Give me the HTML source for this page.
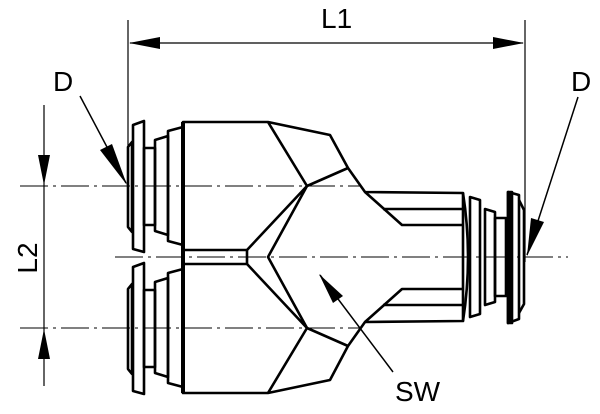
<!DOCTYPE html>
<html><head><style>body{margin:0;background:#fff}svg{display:block}</style></head><body>
<svg width="600" height="414" viewBox="0 0 600 414" xmlns="http://www.w3.org/2000/svg">
<g stroke="#000" fill="none">
<line x1="128" y1="20" x2="128" y2="182" stroke-width="1.2"/>
<line x1="525" y1="20" x2="525" y2="262" stroke-width="1.2"/>
<line x1="130" y1="43" x2="523" y2="43" stroke-width="1.2"/>
<path d="M129,43 L160,37 L160,49 Z M524,43 L493,37 L493,49 Z" fill="#000" stroke="none"/>
<line x1="44" y1="105" x2="44" y2="386" stroke-width="1.2"/>
<path d="M44,185 L38,155 L50,155 Z M44,329 L38,359 L50,359 Z" fill="#000" stroke="none"/>
<g stroke-width="1.1" stroke-dasharray="28,5,3,5">
<line x1="20" y1="186" x2="360" y2="186"/>
<line x1="20" y1="328" x2="360" y2="328"/>
<line x1="115" y1="257" x2="568" y2="257"/>
</g>
<line x1="80" y1="96" x2="126" y2="183" stroke-width="1.5"/>
<path d="M127,185 L100,150 L112,144 Z" fill="#000" stroke="none"/>
<line x1="578" y1="97" x2="527" y2="255" stroke-width="1.5"/>
<path d="M527,256 L531,218 L544,222 Z" fill="#000" stroke="none"/>
<line x1="393" y1="372" x2="320" y2="275" stroke-width="1.5"/>
<path d="M319,274 L343,296 L333,303 Z" fill="#000" stroke="none"/>
</g>
<g stroke="#000" fill="none" stroke-width="2.6" stroke-linejoin="round">
<g id="col">
<path d="M128,147 L132,142 L132,232 L128,227 Z"/>
<path d="M133,125 L144,121 L144,252 L133,249 Z"/>
<rect x="144" y="148" width="11" height="77"/>
<path d="M155,140 L168,136 L168,235 L155,231 Z"/>
<path d="M168,131 L183,127 L183,245 L168,241 Z"/>
</g>
<use href="#col" transform="translate(0,142)"/>
<path d="M183,122 L268,122 L330,135 L348,168 L365,192 L463,193 L463,321 L365,322 L348,346 L330,380 L268,393 L183,393 Z"/>
<line x1="183" y1="122" x2="183" y2="393" stroke-width="4"/>
<path d="M268,122 L307,186 L348,168"/>
<path d="M268,393 L307,328 L348,346"/>
<path d="M183,250 L247,250 L307,186 L268,257 L307,328 L247,264 L183,264"/>
<line x1="247" y1="250" x2="247" y2="264"/>
<path d="M365,192 L402,225 L463,225"/>
<path d="M365,322 L402,289 L463,289"/>
<line x1="383" y1="209" x2="463" y2="209"/>
<line x1="383" y1="305" x2="463" y2="305"/>
<path d="M463,193 Q473,257 463,321"/>
<path d="M470,197 L480,200 L480,314 L470,317 Z"/>
<path d="M485,209 L495,212 L495,302 L485,305 Z"/>
<rect x="495" y="218" width="11" height="78"/>
<path d="M508,192 L519,195 L519,319 L508,323 Z"/>
<rect x="508" y="192" width="4" height="131" fill="#000"/>
<path d="M519,200 L524,210 L524,304 L519,313"/>
</g>
<g font-family="Liberation Sans, sans-serif" font-size="28" fill="#000">
<text x="321" y="28">L1</text>
<text x="53" y="91">D</text>
<text x="571" y="91">D</text>
<text x="395" y="401">SW</text>
<text transform="translate(37,258) rotate(-90)" text-anchor="middle">L2</text>
</g>
</svg>
</body></html>
